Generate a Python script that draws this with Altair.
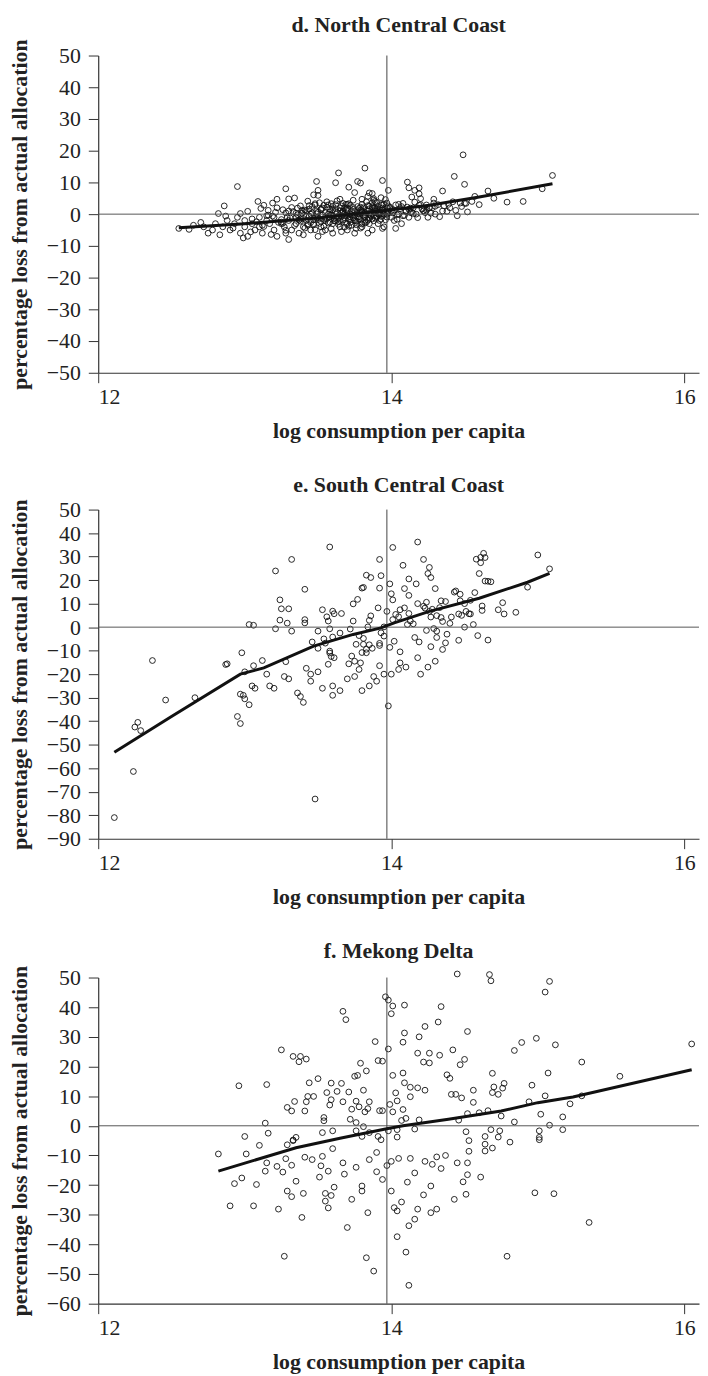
import altair as alt
import pandas as pd

# ---------------- Panel d: North Central Coast ----------------
d_x = [14.49, 15.10, 15.03, 14.43, 14.50, 14.35, 14.66, 14.79, 14.57, 14.29, 14.47, 14.50, 14.52,
       14.39, 14.30, 14.26, 14.51, 14.24, 14.11, 14.12, 14.19, 14.19, 14.20, 14.16, 14.14, 13.82,
       13.64, 13.94, 13.98, 13.77, 13.79, 13.71, 13.49, 13.62, 13.50, 13.50, 13.47, 13.43, 13.28,
       13.34, 13.30, 13.22, 13.19, 13.09, 13.13, 13.16, 12.95, 12.86, 12.82, 12.97, 13.65, 13.75,
       13.85, 13.88, 13.87, 13.89, 13.80, 13.70, 13.68, 13.59, 13.54, 13.48,
       12.55, 12.65, 12.72, 12.78, 12.80, 12.85, 12.83, 12.90, 12.88, 12.93, 12.95, 12.97, 13.00,
       13.00, 13.02, 13.05, 13.07, 13.10, 13.10, 13.12, 13.15, 13.17, 13.20, 13.20, 13.22, 13.25,
       13.27, 13.30, 13.30, 13.32, 13.35, 13.35, 13.37, 13.40, 13.42, 13.45, 13.45, 13.47, 13.50,
       13.50, 13.52, 13.55, 13.55, 13.57, 13.60, 13.60, 13.62, 13.65, 13.65, 13.67, 13.70, 13.70,
       13.72, 13.75, 13.75, 13.77, 13.80, 13.80, 13.82, 13.85, 13.85, 13.87, 13.88, 13.90, 13.90,
       13.92, 13.93, 13.95, 13.95, 13.97, 14.00, 14.00, 14.02, 14.05, 14.07, 14.10, 14.12, 14.15,
       14.17, 14.20, 14.22, 14.25, 14.30, 14.32, 14.35, 14.40, 14.45, 14.55, 14.60, 14.70, 14.90,
       13.05, 13.15, 13.25, 13.38, 13.43, 13.58, 13.63, 13.68, 13.73, 13.78, 13.83, 13.86, 13.91,
       13.12, 13.28, 13.40, 13.53, 13.66, 13.76, 13.84, 13.94, 14.03, 14.08, 14.13, 14.23, 14.28,
       13.31, 13.33, 13.34, 13.36, 13.38, 13.39, 13.41, 13.42, 13.44, 13.46, 13.47, 13.48, 13.49,
       13.51, 13.52, 13.53, 13.54, 13.56, 13.56, 13.58, 13.59, 13.60, 13.61, 13.62, 13.63, 13.64,
       13.66, 13.66, 13.67, 13.68, 13.69, 13.70, 13.71, 13.72, 13.73, 13.74, 13.74, 13.76, 13.77,
       13.78, 13.79, 13.80, 13.81, 13.82, 13.83, 13.84, 13.85, 13.86, 13.87, 13.88, 13.89, 13.90,
       13.91, 13.92, 13.93, 13.94, 13.95, 13.96, 13.97, 13.98,
       14.01, 14.03, 14.04, 14.06, 14.08, 14.09, 14.11, 14.14, 14.16, 14.18, 14.21, 14.24, 14.27,
       14.29, 14.33, 14.36, 14.38, 14.42, 14.44, 14.48,
       13.02, 13.04, 13.08, 13.11, 13.13, 13.16, 13.18, 13.21, 13.23, 13.26, 13.28, 13.29,
       12.62, 12.70, 12.75, 12.87, 12.92, 12.99,
       13.44, 13.45, 13.46, 13.48, 13.49, 13.50, 13.51, 13.52, 13.53, 13.55, 13.56, 13.57, 13.58,
       13.59, 13.60, 13.61, 13.62, 13.63, 13.64, 13.65, 13.66, 13.67, 13.68, 13.69, 13.70, 13.71,
       13.72, 13.73, 13.74, 13.75, 13.76, 13.77, 13.78, 13.79, 13.80, 13.81, 13.82, 13.83, 13.84,
       13.85, 13.86, 13.87, 13.88, 13.89, 13.90, 13.91, 13.92, 13.93, 13.94, 13.95, 13.96, 13.97,
       13.98, 13.99, 13.96, 13.93, 13.88, 13.84, 13.79, 13.71,
       13.36, 13.38, 13.40, 13.41, 13.43, 13.32, 13.28, 13.25, 13.22, 13.19,
       13.35, 13.37, 13.39, 13.42, 13.44, 13.47, 13.49, 13.52, 13.54, 13.57, 13.59, 13.62, 13.64,
       13.67, 13.69, 13.72, 13.74, 13.77, 13.79, 13.82, 13.84, 13.87, 13.89, 13.92, 13.94, 13.97,
       13.99, 14.02, 14.04, 14.07, 14.10, 14.13, 14.15, 14.19, 14.22, 14.26, 13.55, 13.60, 13.65,
       13.70, 13.75, 13.80, 13.85, 13.90, 13.95, 13.62, 13.72, 13.82, 13.92, 13.50, 13.40, 13.30,
       13.26, 13.58, 13.68, 13.78, 13.88, 13.98, 14.05, 14.12]
d_y = [18.7, 12.2, 8.0, 11.9, 9.4, 7.3, 7.3, 3.8, 5.6, 4.7, 3.5, 3.4, 0.7,
       3.1, 2.5, 2.0, 3.4, 1.2, 10.1, 8.3, 8.3, 6.4, 4.9, 7.5, 5.4, 14.5,
       13.0, 10.6, 7.5, 10.3, 9.8, 8.5, 10.3, 9.9, 7.5, 5.9, 6.1, 4.1, 8.0,
       5.1, 4.8, 4.7, 3.5, 4.0, 2.8, 1.2, 8.7, 2.6, 0.2, 0.2, 4.7, 6.8,
       6.7, 4.9, 6.5, 4.0, 4.7, 3.1, 2.0, 3.3, 2.8, 3.3,
       -4.5, -3.5, -4.0, -5.0, -3.0, -4.0, -6.5, -5.0, -2.0, -3.0, -1.0, -6.0, -4.0,
       -2.0, -7.0, -3.0, -5.0, -1.0, -4.0, -6.0, -2.0, -3.0, -5.0, -1.0, -7.0, -3.0,
       -4.0, -8.0, -2.0, -5.0, -1.0, -3.0, -6.0, -4.0, -2.0, -5.0, 0.0, -3.0, -7.0,
       -1.0, -4.0, -2.0, -5.0, 0.0, -3.0, -6.0, -1.0, -4.0, -2.0, 1.0, -5.0, -3.0,
       0.0, -2.0, -6.0, -1.0, -4.0, 1.0, -2.0, 0.0, -3.0, -5.0, 2.0, -1.0, 1.0,
       -2.0, 3.0, 0.0, -4.0, 2.0, -1.0, 1.0, -2.0, 0.0, -3.0, 1.0, -1.0, 2.0,
       0.0, 3.0, 1.0, -1.0, 0.0, 3.0, 1.0, 2.0, -0.5, 4.0, 3.0, 5.0, 4.0,
       -1.5, -0.5, -2.5, -1.5, -3.5, -2.5, 0.5, -0.5, -3.5, -1.5, -2.5, -0.5, -3.0,
       -3.5, -6.0, -6.5, -5.5, -5.5, -4.5, -6.0, -4.5, -4.5, -0.5, 0.5, 0.5, 2.0,
       -1.2, 0.8, -3.6, 1.9, -2.2, 0.3, -4.4, 1.1, -0.6, 2.4, -1.8, -4.9, 0.9,
       -2.9, 1.6, -0.3, -3.8, 2.2, -1.4, 0.6, -4.6, 1.3, -2.1, 3.0, -0.8, -3.2,
       0.4, 2.6, -1.9, -4.1, 1.4, -0.5, 3.3, -2.6, 0.9, -1.2, 2.1, -3.3, 0.2,
       1.8, -1.7, 3.1, -0.4, -2.8, 1.2, 2.7, -1.3, 0.5, 3.6, -2.1, 1.5, -0.6,
       2.4, 0.2, -1.6, 1.9, 3.2, 0.7, -0.9, 2.6,
       0.4, 2.9, -1.6, 1.7, 3.4, -0.4, 2.2, 0.6, 3.8, -1.1, 1.6, 2.9, 0.3,
       3.5, -0.8, 2.6, 0.9, 3.9, 1.2, 2.4,
       0.9, -5.6, -2.4, 1.8, -3.9, -0.3, -6.4, 0.6, -2.6, 1.4, -5.1, -0.9,
       -4.8, -2.6, -6.0, -0.6, -4.4, -7.5,
       1.6, -2.6, 0.4, 2.9, -1.1, 0.6, 3.6, -2.3, 1.9, -0.9, 3.9, -2.8, 1.7,
       -0.2, 2.5, -1.3, 0.8, 4.2, -2.4, 1.1, -0.7, 3.4, 0.1, -2.9, 1.9, -1.6,
       2.8, -0.2, 4.4, 0.9, -2.2, 2.4, -0.8, 1.3, -3.1, 2.0, 0.4, 3.9, -1.9,
       1.7, -0.2, 2.3, 0.8, -1.3, 3.7, 0.1, 1.4, -0.7, 2.9, 1.1, -1.8, 3.5,
       0.3, 1.8, 4.6, 5.2, 4.4, 5.6, -4.4, -3.8,
       -0.2, 2.6, -1.4, 1.3, -3.1, 2.1, 0.4, -1.7, 2.0, -0.6,
       0.3, -1.9, 1.2, -0.7, 2.7, -3.4, 0.1, 1.4, -1.6, 2.9, -0.4, 1.7, -1.2,
       0.6, 3.1, -0.9, 1.5, -2.3, 2.2, -0.1, 1.0, -1.5, 2.0, -0.3, 1.2, 0.2,
       2.2, 1.3, -0.2, 2.4, 0.8, 1.9, 0.2, 2.8, 1.1, 2.0, 0.5, -0.6, 2.0,
       1.1, -0.4, 0.7, 2.6, 1.6, -0.1, -2.2, -1.7, -0.9, 0.6, -1.7, 0.9, 1.0,
       -2.9, -0.9, -1.1, 0.3, -0.4, 1.0, 3.1, 1.5]
d_line_x = [12.55, 13.00, 13.50, 13.97, 14.26, 14.60, 15.10]
d_line_y = [-4.3, -3.0, -1.2, 1.2, 2.8, 5.4, 9.6]

# ---------------- Panel e: South Central Coast ----------------
e_x = [12.37, 13.58, 13.32, 13.21, 13.41, 13.24, 13.25, 13.30, 13.24, 13.29, 13.03, 13.06, 13.21,
       13.32, 13.41, 13.41, 12.98, 13.12, 13.06, 12.87, 12.88, 13.28, 13.50, 13.46, 13.53, 13.60,
       13.61, 13.56, 13.66, 13.57, 13.58, 13.50, 13.54, 13.55, 13.60, 13.65, 13.58, 13.59, 13.57,
       13.58, 13.61, 13.72, 13.74, 13.74, 13.77, 13.80, 13.81, 13.83, 13.93, 13.86, 13.92, 13.92,
       13.91, 13.86, 13.95, 13.84, 13.85, 13.78, 13.81, 13.76, 13.81, 13.85, 13.87, 13.83, 13.80,
       13.83, 13.73, 13.75, 13.71, 13.79, 13.92, 13.93, 13.95, 13.92, 13.92, 13.99, 14.01, 14.00,
       14.01, 14.01, 13.97, 13.99, 14.02, 14.06, 14.06, 14.03, 14.05, 14.06, 14.09, 14.09, 14.12,
       14.08, 14.18, 14.22, 14.17, 14.12, 14.12, 14.13, 14.11, 14.15, 14.16, 14.19, 14.18, 14.26,
       14.25, 14.27, 14.30, 14.18, 14.22, 14.24, 14.23, 14.26, 14.28, 14.27, 14.31, 14.24, 14.29,
       14.27, 14.30, 14.35, 14.34, 14.31, 14.31, 14.34, 14.37, 14.33, 14.38, 14.37, 14.35, 14.40,
       14.41, 14.43, 14.44, 14.47, 14.47, 14.51, 14.50, 14.46, 14.48, 14.46, 14.50, 14.53, 14.54,
       14.57, 14.60, 14.61, 14.61, 14.58, 14.63, 14.64, 14.64, 14.66, 14.68, 14.62, 14.62, 14.54,
       14.59, 14.66, 14.73, 14.76, 14.77, 14.85, 14.93, 15.00, 15.08, 14.56,
       12.11, 12.24, 13.48, 12.27, 12.25, 12.29, 12.46, 12.66, 12.95, 12.97, 13.00, 13.05, 13.07,
       12.97, 13.00, 13.03, 12.99, 13.15, 13.17, 13.20, 13.27, 13.30, 13.36, 13.40, 13.38, 13.42,
       13.45, 13.45, 13.50, 13.53, 13.60, 13.60, 13.65, 13.70, 13.75, 13.78, 13.80, 13.85, 13.88,
       13.90, 13.95, 13.98, 14.00, 14.05, 14.10, 14.20, 14.25]
e_y = [-14.2, 34.1, 28.8, 23.9, 16.1, 11.6, 7.8, 7.8, 3.0, 1.7, 1.1, 0.8, -0.7,
       -1.7, 3.2, 1.8, -10.9, -14.2, -16.4, -15.9, -15.6, -14.7, -1.7, -6.3, 7.4, 6.8,
       5.7, 4.4, 5.8, 2.6, -0.7, -9.0, -5.0, -6.8, -4.2, -2.5, -11.0, -12.5, -15.8,
       -10.2, -13.0, -0.8, 2.6, 9.9, 11.8, 16.6, 16.9, 22.1, 21.9, 21.1, 28.8, 16.6,
       8.2, 4.8, 0.1, 0.1, 2.9, -3.6, -4.8, -7.3, -7.3, -7.5, -9.0, -9.4, -10.8,
       -10.9, -12.3, -14.5, -15.6, -15.2, -16.4, -2.4, -3.8, -6.9, -7.8, 18.4, 33.9, 14.2,
       11.6, 3.2, 6.7, -8.6, -6.0, -10.5, -15.2, 5.4, 4.4, 7.4, 8.2, 16.4, 20.5,
       26.3, 36.2, 28.8, 18.4, 13.5, 5.8, 2.6, 1.1, 1.4, -4.4, -6.3, -13.0, 25.4,
       22.8, 21.1, 16.4, 10.0, 8.9, 10.6, 8.1, 6.7, 7.6, 4.3, 4.9, -1.4, -0.6,
       -8.3, -14.5, 2.4, 4.1, -4.4, -1.7, 11.2, 10.9, 8.3, -3.0, -6.7, -9.5, 1.6,
       4.3, 14.9, 15.4, 14.0, 11.2, 6.7, 10.0, 5.6, 5.0, -5.6, 0.0, 5.7, 11.4,
       14.7, 22.8, 27.4, 29.7, 28.9, 31.4, 29.6, 19.6, 19.5, 19.3, 9.0, 7.1, 5.6,
       -3.6, -5.5, 7.4, 10.4, 5.6, 6.3, 17.0, 30.7, 24.8, 1.1,
       -81.0, -61.4, -73.1, -40.5, -42.5, -44.0, -31.0, -30.0, -38.0, -41.0, -19.0, -25.0, -26.0,
       -28.5, -30.5, -33.0, -29.0, -20.0, -25.0, -26.0, -21.0, -22.0, -28.0, -32.0, -29.5, -17.5,
       -20.0, -23.0, -19.0, -26.0, -25.0, -29.0, -27.0, -22.0, -21.0, -18.0, -27.0, -25.0, -21.0,
       -23.0, -20.0, -33.5, -20.0, -18.0, -17.0, -20.0, -17.0]
e_line_x = [12.11, 12.50, 12.97, 13.13, 13.47, 13.74, 13.93, 14.02, 14.26, 14.60, 14.93, 15.08]
e_line_y = [-53.2, -38.0, -20.0, -17.3, -8.1, -3.1, -0.3, 1.8, 6.7, 12.3, 19.1, 22.9]

# ---------------- Panel f: Mekong Delta ----------------
f_x = [12.96, 13.15, 13.00, 13.16, 13.14, 13.25, 13.33, 13.38, 13.37, 13.42, 13.29, 13.32, 13.41,
       13.34, 13.42, 13.43, 13.47, 13.44, 13.50, 13.59, 13.66, 13.56, 13.63, 13.59, 13.58, 13.67,
       13.54, 13.54, 13.53, 13.60, 13.35, 13.33, 13.29, 13.67, 13.69, 13.75, 13.77, 13.79, 13.83,
       13.91, 13.94, 13.89, 13.71, 13.81, 13.76, 13.78, 13.82, 13.85, 13.84, 13.92, 13.94, 13.73,
       13.72, 13.76, 13.76, 13.81, 13.80, 13.85, 13.91, 13.93, 13.96, 13.98, 14.01, 14.00, 14.09,
       13.98, 14.01, 14.08, 14.09, 14.08, 14.09, 14.03, 14.04, 13.99, 14.01, 14.08, 14.13, 14.13,
       14.10, 14.07, 14.04, 14.04, 13.98, 14.16, 14.19, 14.19, 14.23, 14.18, 14.26, 14.22, 14.26,
       14.23, 14.18, 14.32, 14.34, 14.33, 14.38, 14.40, 14.42, 14.47, 14.50, 14.52, 14.45, 14.67,
       14.68, 14.41, 14.44, 14.48, 14.56, 14.52, 14.56, 14.46, 14.51, 14.53, 14.64, 14.64, 14.60,
       14.66, 14.68, 14.74, 14.73, 14.81, 14.69, 14.69, 14.70, 14.73, 14.76, 14.77, 14.75, 14.84,
       14.89, 14.99, 14.84, 14.94, 14.96, 15.05, 15.08, 15.07, 15.05, 15.02, 15.08, 15.01, 15.01,
       15.12, 15.17, 15.17, 15.22, 15.30, 15.30, 15.56, 16.05,
       12.82, 12.93, 12.90, 12.98, 13.01, 13.08, 13.06, 13.10, 13.14, 13.15, 13.22, 13.26, 13.28,
       13.23, 13.29, 13.32, 13.27, 13.32, 13.33, 13.35, 13.40, 13.39, 13.41, 13.46, 13.51, 13.52,
       13.53, 13.55, 13.55, 13.57, 13.59, 13.61, 13.57, 13.60, 13.67, 13.68, 13.70, 13.73, 13.76,
       13.80, 13.80, 13.84, 13.85, 13.83, 13.88, 13.90, 13.90, 13.97, 13.94, 14.00, 14.00, 14.02,
       14.05, 14.04, 14.04, 14.07, 14.10, 14.11, 14.12, 14.12, 14.16, 14.18, 14.16, 14.13, 14.22,
       14.23, 14.27, 14.31, 14.27, 14.28, 14.31, 14.34, 14.37, 14.43, 14.45, 14.49, 14.51, 14.52,
       14.52, 14.53, 14.61, 14.64, 14.69, 14.79, 14.98, 15.11, 15.35, 15.01]
f_y = [13.5, 13.9, -3.6, -2.5, 0.9, 25.6, 23.4, 23.4, 21.6, 22.5, 6.2, 5.0, 5.0,
       8.2, 8.1, 9.9, 9.9, 14.5, 15.9, 14.4, 14.3, 11.2, 11.6, 8.8, 7.0, 8.1,
       2.8, 1.7, -2.3, -1.7, -3.9, -4.8, -6.4, 38.6, 35.8, 16.7, 17.0, 21.1, 18.5,
       22.0, 21.8, 28.4, 11.4, 12.0, 8.3, 6.4, 4.7, 8.1, 5.8, 5.1, 5.1, 5.6,
       2.2, 1.1, -1.7, -0.3, -3.6, -2.3, -3.6, -4.7, 43.5, 42.4, 40.4, 37.8, 40.7,
       25.9, 17.0, 28.2, 31.3, 17.8, 14.5, 11.1, 8.4, 7.2, 4.7, 5.5, 9.8, 13.0,
       2.5, 1.8, -1.3, -3.8, -1.7, -1.1, 2.0, 30.0, 33.5, 24.5, 24.5, 21.5, 21.2,
       12.0, 12.8, 35.0, 40.2, 23.8, 17.2, 16.0, 25.6, 20.6, 22.4, 31.8, 51.2, 51.0,
       48.9, 10.6, 10.6, 9.4, 12.0, 4.1, 7.9, 1.9, -2.0, -5.0, -3.6, -6.2, 4.4,
       5.1, -1.3, -1.7, -3.8, -5.5, 17.7, 11.2, 13.1, 10.6, 12.7, 14.3, 3.3, 25.4,
       28.1, 29.5, 1.3, 8.1, 13.7, 45.1, 48.7, 17.8, 10.1, 3.9, 0.2, -1.7, -3.9,
       27.3, 3.0, -1.3, 7.4, 21.5, 10.1, 16.7, 27.6,
       -9.5, -19.5, -27.0, -17.6, -9.5, -19.8, -27.0, -6.6, -15.3, -12.5, -13.7, -15.6, -11.1,
       -28.1, -22.0, -23.9, -44.0, -13.3, -5.0, -18.7, -22.8, -30.9, -10.6, -11.4, -17.3, -13.5,
       -10.3, -22.8, -25.4, -27.7, -23.5, -20.7, -15.3, -7.7, -12.5, -16.3, -34.3, -24.8, -14.0,
       -20.3, -22.0, -29.3, -11.4, -44.5, -49.0, -15.5, -9.0, -13.4, -18.1, -22.0, -12.0, -27.6,
       -11.0, -28.7, -37.4, -25.7, -42.6, -19.0, -53.8, -33.7, -31.5, -28.1, -15.9, -11.0, -23.3,
       -12.0, -29.3, -28.1, -20.3, -13.0, -10.5, -14.4, -10.0, -24.8, -12.5, -18.9, -23.1, -12.5,
       -16.5, -8.6, -17.3, -8.5, -7.5, -44.0, -22.6, -22.9, -32.6, -4.7]
f_line_x = [12.82, 13.35, 13.65, 13.96, 14.08, 14.39, 14.75, 15.00, 15.24, 16.05]
f_line_y = [-15.3, -7.4, -4.2, -1.1, 0.0, 2.2, 5.0, 7.8, 9.7, 18.9]

mean_x = 13.97

SERIF = "Liberation Serif"
X_DOMAIN = [12, 16.1]


def panel(title, xs, ys, lx, ly, ydom, ystep, height):
    pts = pd.DataFrame({"x": xs, "y": ys})
    ln = pd.DataFrame({"x": lx, "y": ly})
    xscale = alt.Scale(domain=X_DOMAIN, nice=False, zero=False)
    yscale = alt.Scale(domain=ydom, nice=False, zero=False)
    yvals = list(range(ydom[0], ydom[1] + 1, ystep))
    xaxis = alt.Axis(values=[12, 14, 16], title="log consumption per capita", format="d",
                     labelOverlap=False)
    yaxis = alt.Axis(values=yvals, title="percentage loss from actual allocation", format="d",
                     labelOverlap=False)
    X = alt.X("x:Q", scale=xscale, axis=xaxis)
    Y = alt.Y("y:Q", scale=yscale, axis=yaxis)
    points = alt.Chart(pts).mark_point(
        shape="circle", filled=False, size=34, color="#111", strokeWidth=0.9, opacity=1
    ).encode(x=X, y=Y)
    zero = alt.Chart(pd.DataFrame({"y": [0]})).mark_rule(color="#555", strokeWidth=1).encode(y=Y)
    vline = alt.Chart(pd.DataFrame({"x": [mean_x]})).mark_rule(color="#444", strokeWidth=1).encode(x=X)
    fit = alt.Chart(ln).mark_line(color="#111", strokeWidth=3).encode(x=X, y=Y)
    return alt.layer(points, zero, vline, fit).properties(
        width=606, height=height,
        title=alt.TitleParams(title, anchor="middle", offset=2, font=SERIF, fontSize=22,
                              fontWeight="bold", color="#222"))


pd_ = panel("d. North Central Coast", d_x, d_y, d_line_x, d_line_y, [-50, 50], 10, 320)
pe_ = panel("e. South Central Coast", e_x, e_y, e_line_x, e_line_y, [-90, 50], 10, 332)
pf_ = panel("f. Mekong Delta", f_x, f_y, f_line_x, f_line_y, [-60, 50], 10, 329)

chart = alt.vconcat(pd_, pe_, pf_, spacing=33).properties(
    padding={"left": 0, "top": 0, "right": 0, "bottom": 0}
).configure_view(stroke=None).configure_axis(
    grid=False, domainColor="#333", tickColor="#333", tickSize=10, domainWidth=1.2,
    labelFont=SERIF, labelFontSize=22, labelColor="#222", labelPadding=4, labelOverlap=False,
    titleFont=SERIF, titleFontSize=22, titleFontWeight="bold", titleColor="#222"
).configure_axisY(titlePadding=15, labelPadding=8).configure_axisX(titlePadding=13)

chart.save("out.html", embed_options={"renderer": "svg", "actions": False})
